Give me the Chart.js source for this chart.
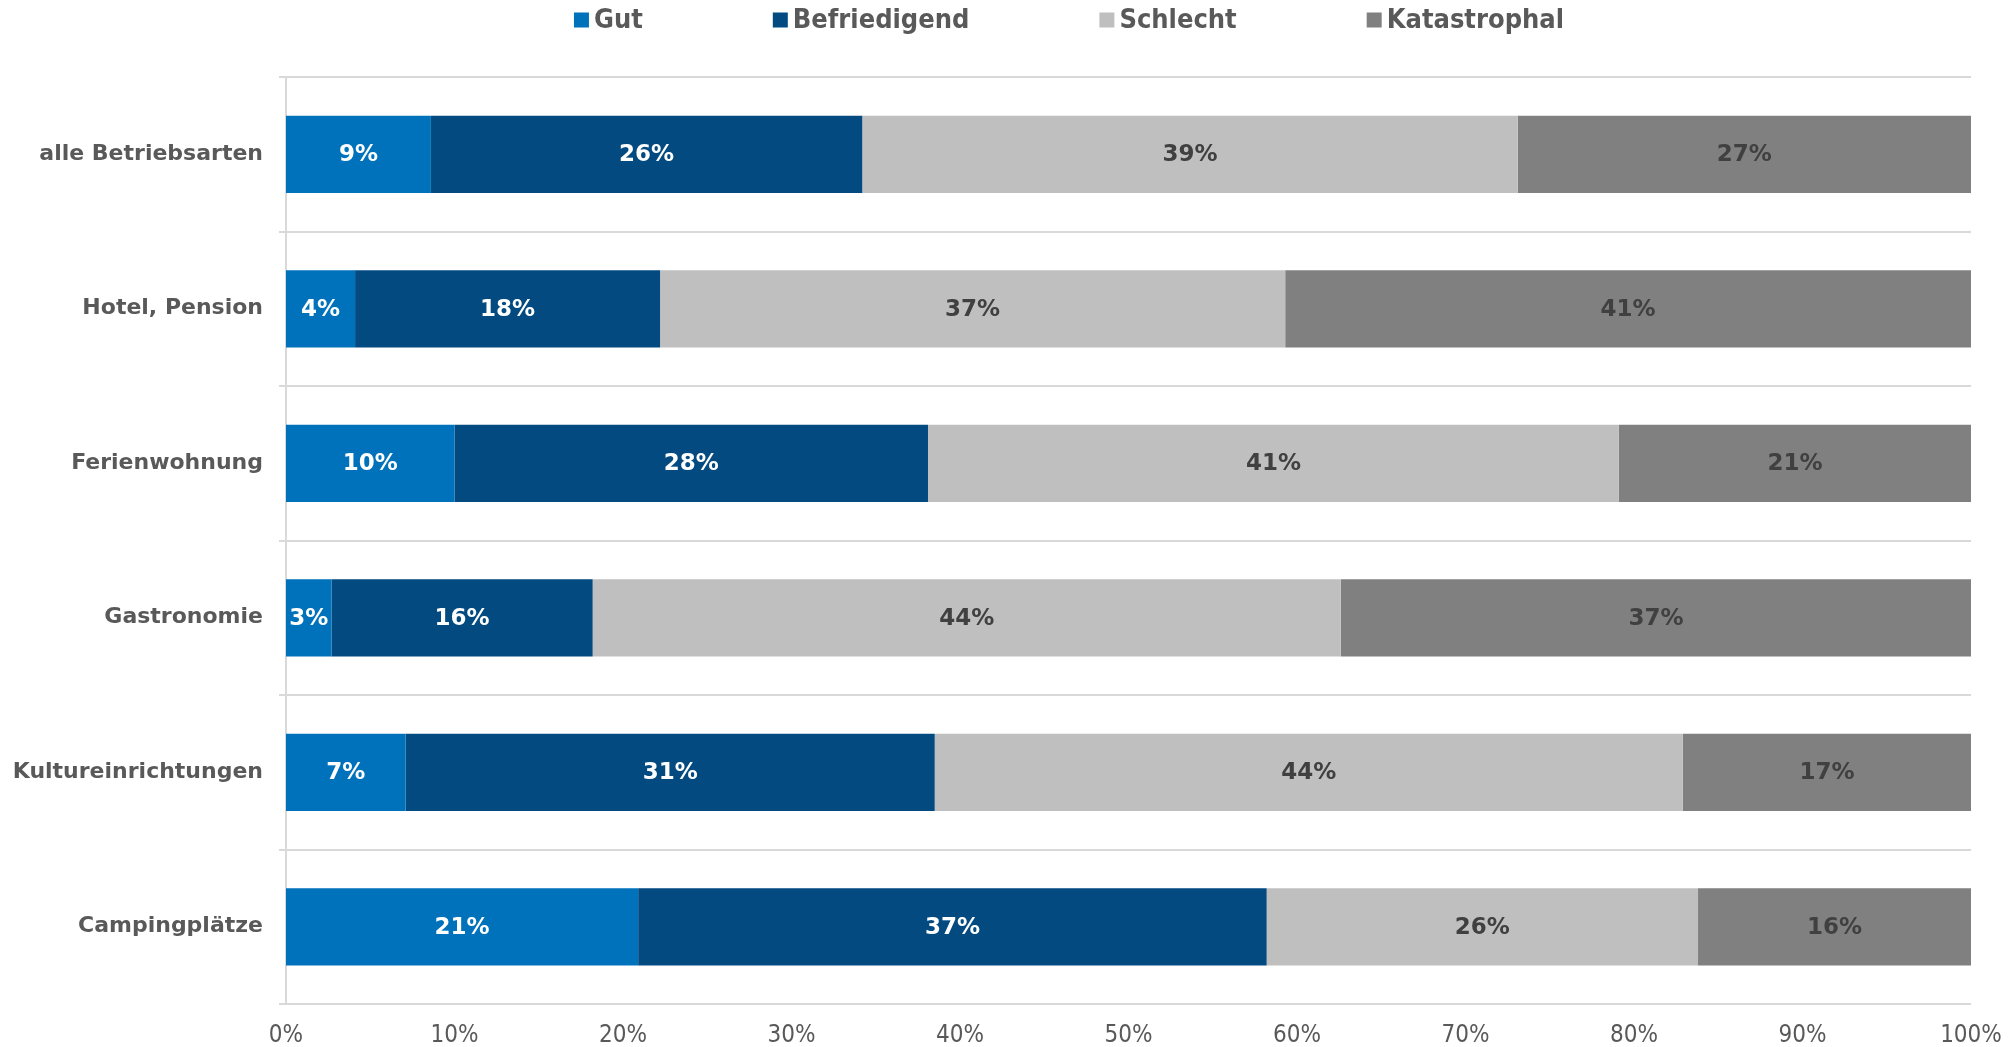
<!DOCTYPE html>
<html lang="de">
<head>
<meta charset="utf-8">
<title>Bewertung nach Betriebsart</title>
<script src="https://cdn.jsdelivr.net/npm/chart.js@4.4.1/dist/chart.umd.min.js"></script>
<style>
  html, body { margin: 0; padding: 0; background: #fff; }
  #wrap { width: 2013px; height: 1047px; }
</style>
</head>
<body>
<div id="wrap"><canvas id="myChart" width="2013" height="1047"></canvas></div>
<script>
// Werte in Prozent, je Betriebsart (von oben nach unten)
const categories = ["alle Betriebsarten", "Hotel, Pension", "Ferienwohnung", "Gastronomie", "Kultureinrichtungen", "Campingplätze"];
const seriesNames = ["Gut", "Befriedigend", "Schlecht", "Katastrophal"];
const gut = [8.6, 4.1, 10.0, 2.7, 7.1, 20.9];
const befriedigend = [25.6, 18.1, 28.1, 15.5, 31.4, 37.3];
const schlecht = [38.9, 37.1, 41.0, 44.4, 44.4, 25.6];
const katastrophal = [26.9, 40.7, 20.9, 37.4, 17.1, 16.2];
const xTickLabels = ["0%", "10%", "20%", "30%", "40%", "50%", "60%", "70%", "80%", "90%", "100%"];

const colors = ["#0071BB", "#024A80", "#BFBFBF", "#808080"];
const labelColors = ["#FFFFFF", "#FFFFFF", "#404040", "#404040"];
const boldFont = '"DejaVu Sans", sans-serif';
const narrowFont = '"DejaVu Sans Condensed", "DejaVu Sans", sans-serif';

// Prozentwerte mittig in die Balken schreiben
const barLabels = {
  id: "barLabels",
  afterDatasetsDraw(chart) {
    const ctx = chart.ctx;
    ctx.save();
    ctx.font = "bold 23px " + boldFont;
    ctx.textAlign = "center";
    ctx.textBaseline = "middle";
    chart.data.datasets.forEach((ds, i) => {
      const meta = chart.getDatasetMeta(i);
      meta.data.forEach((bar, j) => {
        const p = bar.getProps(["x", "y", "base"], true);
        ctx.fillStyle = labelColors[i];
        ctx.fillText(Math.round(ds.data[j]) + "%", (p.x + p.base) / 2, p.y + 1);
      });
    });
    ctx.restore();
  }
};

// Legende oben, mit großen Abständen wie im Original
const topLegend = {
  id: "topLegend",
  afterDraw(chart) {
    const ctx = chart.ctx;
    const box = 15, textGap = 5, itemGap = 130, y = 20;
    ctx.save();
    ctx.font = "bold 27px " + narrowFont;
    ctx.textBaseline = "middle";
    const items = chart.data.datasets.map(ds => ({
      text: ds.label, color: ds.backgroundColor, w: ctx.measureText(ds.label).width
    }));
    const total = items.reduce((s, it) => s + box + textGap + it.w, 0) + itemGap * (items.length - 1);
    let x = 1069 - total / 2;
    items.forEach(it => {
      ctx.fillStyle = it.color;
      ctx.fillRect(x, y - box / 2, box, box);
      ctx.fillStyle = "#595959";
      ctx.fillText(it.text, x + box + textGap, y + 1);
      x += box + textGap + it.w + itemGap;
    });
    ctx.restore();
  }
};

const values = [gut, befriedigend, schlecht, katastrophal];

const ctx = document.getElementById("myChart").getContext("2d");
const myChart = new Chart(ctx, {
  type: "bar",
  data: {
    labels: categories,
    datasets: seriesNames.map((name, i) => ({
      label: name,
      data: values[i],
      backgroundColor: colors[i],
      borderWidth: 0,
      barPercentage: 0.5,
      categoryPercentage: 1.0
    }))
  },
  options: {
    indexAxis: "y",
    responsive: false,
    animation: false,
    layout: { padding: { top: 77, right: 42, left: 0, bottom: 0 } },
    plugins: {
      legend: { display: false },
      tooltip: { enabled: false }
    },
    scales: {
      x: {
        stacked: true,
        min: 0,
        max: 100,
        grid: { display: false, drawTicks: false },
        border: { display: false },
        ticks: {
          stepSize: 10,
          padding: 17,
          maxRotation: 0,
          color: "#595959",
          font: { family: narrowFont, size: 24 },
          callback: (v, i) => xTickLabels[i]
        },
        afterFit: (scale) => {
          scale.height = 43;
          scale.paddingLeft = 0;
          scale.paddingRight = 0;
        }
      },
      y: {
        stacked: true,
        grid: { color: "#D9D9D9", lineWidth: 2, tickLength: 7, offset: true },
        border: { color: "#D9D9D9", width: 2 },
        ticks: {
          padding: 16,
          color: "#595959",
          font: { family: boldFont, size: 22, weight: "bold" }
        },
        afterFit: (scale) => { scale.width = 286; }
      }
    }
  },
  plugins: [barLabels, topLegend]
});
</script>
</body>
</html>
